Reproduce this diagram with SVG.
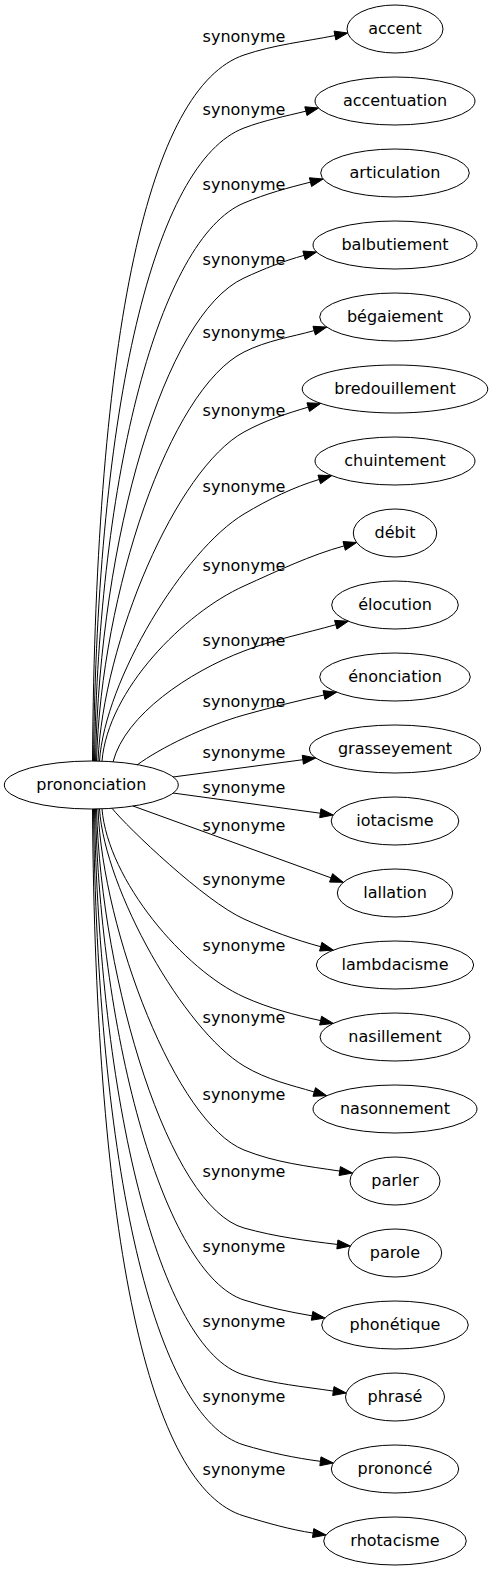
<svg xmlns="http://www.w3.org/2000/svg" width="493" height="1571" viewBox="0 0 493 1571">
<style>
.n ellipse{fill:none;stroke:#000;stroke-width:1}
.n text,.lbl text{font-family:"DejaVu Sans",sans-serif;font-size:16px;fill:#000;text-anchor:middle}
.e path{fill:none;stroke:#000;stroke-width:1}
.e polygon{fill:#000;stroke:#000;stroke-width:1}
</style>
<rect width="493" height="1571" fill="#fff"/>
<g id="edges" class="e">
<path d="M92.5,761 C95.5,330 149,87.3 244,55 C274.3,44.7 304.65,41.6 334.95,35.55"/><polygon points="347.7,33 335.83,39.96 334.07,31.14"/>
<path d="M93.5,761 C97,406.5 154,162.2 244,128 C264.63,120.16 285.26,116.31 305.89,111.15"/><polygon points="318.5,108 306.98,115.52 304.8,106.78"/>
<path d="M94.5,761 C98.5,476.4 159,238.7 244,203 C266.16,193.69 288.33,187.69 310.49,182.15"/><polygon points="323.1,179 311.58,186.52 309.4,177.78"/>
<path d="M95.5,761 C100,538.8 164,314.8 244,278 C264.02,268.79 284.03,260.8 304.05,255.39"/><polygon points="316.6,252 305.22,259.73 302.88,251.05"/>
<path d="M96.5,761 C101.5,593.3 169,389.5 244,352 C267.39,340.3 290.79,337.16 314.18,330.61"/><polygon points="326.7,327.1 315.39,334.94 312.97,326.28"/>
<path d="M98,761 C103,642.6 176,469.4 244,432 C265.42,420.22 286.83,413.56 308.25,407.13"/><polygon points="320.7,403.4 309.54,411.44 306.96,402.82"/>
<path d="M99.5,761 C105,680 184,550 244,514 C269.08,498.95 294.17,486.95 319.25,479.43"/><polygon points="331.7,475.7 320.54,483.74 317.96,475.12"/>
<path d="M102,761 C108,690 184,613 244,586 C277.38,570.98 310.77,554.9 344.15,545.89"/><polygon points="356.7,542.5 345.32,550.23 342.98,541.55"/>
<path d="M113,762 C125,715 189,671.9 244,651 C274.59,639.38 305.19,633.28 335.78,624.71"/><polygon points="348.3,621.2 336.99,629.04 334.57,620.38"/>
<path d="M137,765 C160,748 205,726 244,715 C270.67,707.53 297.33,700.86 324,694.99"/><polygon points="336.7,692.2 324.97,699.38 323.03,690.6"/>
<path d="M173,777 L302.81,759.72"/><polygon points="315.7,758 303.4,764.18 302.22,755.26"/>
<path d="M173,793 L320.32,813.23"/><polygon points="333.2,815 319.71,817.69 320.93,808.77"/>
<path d="M133,806 L331.08,877.86"/><polygon points="343.3,882.3 329.54,882.09 332.62,873.63"/>
<path d="M112,808.3 C128,828 205,901.5 244,919 C269.58,930.51 295.17,939.8 320.75,946.71"/><polygon points="333.3,950.1 319.58,951.05 321.92,942.37"/>
<path d="M102,809 C108,880 184,970 244,997 C269.53,1008.49 295.07,1014.99 320.6,1020.61"/><polygon points="333.3,1023.4 319.63,1025 321.57,1016.22"/>
<path d="M99.5,809 C105,890 184,1030 244,1066 C267.42,1080.05 290.83,1084.94 314.25,1091.97"/><polygon points="326.7,1095.7 312.96,1096.28 315.54,1087.66"/>
<path d="M98,809 C103,931.8 176,1122.8 244,1150 C275.91,1162.76 307.83,1166.28 339.74,1171.07"/><polygon points="352.6,1173 339.07,1175.52 340.41,1166.62"/>
<path d="M96.5,809 C101.5,981.6 169,1207 244,1228 C275.13,1236.72 306.26,1240.71 337.39,1244.45"/><polygon points="350.3,1246 336.85,1248.92 337.93,1239.98"/>
<path d="M95.5,809 C100,1034.9 164,1274.4 244,1300 C266.69,1307.26 289.39,1311.96 312.08,1315.82"/><polygon points="324.9,1318 311.33,1320.26 312.83,1311.38"/>
<path d="M94.5,809 C98.5,1097.7 159,1349.5 244,1375 C273.78,1383.93 303.56,1386.6 333.34,1391.07"/><polygon points="346.2,1393 332.67,1395.52 334.01,1386.62"/>
<path d="M93.5,809 C97,1165.2 154,1418 244,1445 C269.47,1452.64 294.94,1458.01 320.41,1461.32"/><polygon points="333.3,1463 319.83,1465.78 320.99,1456.86"/>
<path d="M92.5,809 C95.5,1241.5 149,1487.5 244,1516 C267.05,1522.92 290.09,1529.61 313.14,1533.07"/><polygon points="326,1535 312.47,1537.52 313.81,1528.62"/>
</g>
<g id="labels" class="lbl">
<text x="244" y="42">synonyme</text>
<text x="244" y="115">synonyme</text>
<text x="244" y="190">synonyme</text>
<text x="244" y="265">synonyme</text>
<text x="244" y="338">synonyme</text>
<text x="244" y="416">synonyme</text>
<text x="244" y="492">synonyme</text>
<text x="244" y="571">synonyme</text>
<text x="244" y="646">synonyme</text>
<text x="244" y="707">synonyme</text>
<text x="244" y="758">synonyme</text>
<text x="244" y="793">synonyme</text>
<text x="244" y="831">synonyme</text>
<text x="244" y="885">synonyme</text>
<text x="244" y="951">synonyme</text>
<text x="244" y="1023">synonyme</text>
<text x="244" y="1100">synonyme</text>
<text x="244" y="1177">synonyme</text>
<text x="244" y="1252">synonyme</text>
<text x="244" y="1327">synonyme</text>
<text x="244" y="1402">synonyme</text>
<text x="244" y="1475">synonyme</text>
</g>
<g id="prononciation" class="n"><ellipse cx="91.3" cy="785" rx="87" ry="24"/><text x="91.3" y="790">prononciation</text></g>
<g id="accent" class="n"><ellipse cx="395" cy="29" rx="48" ry="24"/><text x="395" y="34">accent</text></g>
<g id="accentuation" class="n"><ellipse cx="395" cy="101" rx="80" ry="24"/><text x="395" y="106">accentuation</text></g>
<g id="articulation" class="n"><ellipse cx="395" cy="173" rx="74.3" ry="24"/><text x="395" y="178">articulation</text></g>
<g id="balbutiement" class="n"><ellipse cx="395" cy="245" rx="82" ry="24"/><text x="395" y="250">balbutiement</text></g>
<g id="begaiement" class="n"><ellipse cx="395" cy="317" rx="75.3" ry="24"/><text x="395" y="322">bégaiement</text></g>
<g id="bredouillement" class="n"><ellipse cx="395" cy="389" rx="92.8" ry="24"/><text x="395" y="394">bredouillement</text></g>
<g id="chuintement" class="n"><ellipse cx="395" cy="461" rx="80" ry="24"/><text x="395" y="466">chuintement</text></g>
<g id="debit" class="n"><ellipse cx="395" cy="533" rx="41.7" ry="24"/><text x="395" y="538">débit</text></g>
<g id="elocution" class="n"><ellipse cx="395" cy="605" rx="63.3" ry="24"/><text x="395" y="610">élocution</text></g>
<g id="enonciation" class="n"><ellipse cx="395" cy="677" rx="75.3" ry="24"/><text x="395" y="682">énonciation</text></g>
<g id="grasseyement" class="n"><ellipse cx="395" cy="749" rx="85.5" ry="24"/><text x="395" y="754">grasseyement</text></g>
<g id="iotacisme" class="n"><ellipse cx="395" cy="821" rx="63.8" ry="24"/><text x="395" y="826">iotacisme</text></g>
<g id="lallation" class="n"><ellipse cx="395" cy="893" rx="57.7" ry="24"/><text x="395" y="898">lallation</text></g>
<g id="lambdacisme" class="n"><ellipse cx="395" cy="965" rx="78.7" ry="24"/><text x="395" y="970">lambdacisme</text></g>
<g id="nasillement" class="n"><ellipse cx="395" cy="1037" rx="75" ry="24"/><text x="395" y="1042">nasillement</text></g>
<g id="nasonnement" class="n"><ellipse cx="395" cy="1109" rx="82" ry="24"/><text x="395" y="1114">nasonnement</text></g>
<g id="parler" class="n"><ellipse cx="395" cy="1181" rx="45" ry="24"/><text x="395" y="1186">parler</text></g>
<g id="parole" class="n"><ellipse cx="395" cy="1253" rx="46.7" ry="24"/><text x="395" y="1258">parole</text></g>
<g id="phonetique" class="n"><ellipse cx="395" cy="1325" rx="73.3" ry="24"/><text x="395" y="1330">phonétique</text></g>
<g id="phrase" class="n"><ellipse cx="395" cy="1397" rx="49.5" ry="24"/><text x="395" y="1402">phrasé</text></g>
<g id="prononce" class="n"><ellipse cx="395" cy="1469" rx="63.7" ry="24"/><text x="395" y="1474">prononcé</text></g>
<g id="rhotacisme" class="n"><ellipse cx="395" cy="1541" rx="71.3" ry="24"/><text x="395" y="1546">rhotacisme</text></g>
</svg>
